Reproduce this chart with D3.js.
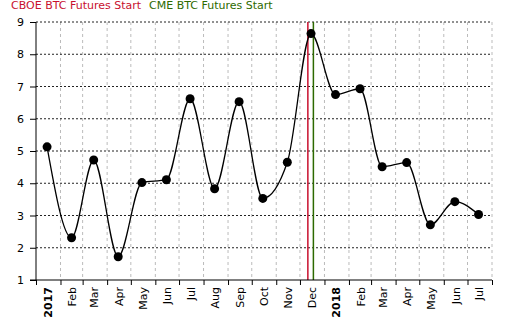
<!DOCTYPE html>
<html lang="en">
<head>
    <meta charset="UTF-8">
    <title>BTC chart</title>
    <script src="https://cdnjs.cloudflare.com/ajax/libs/d3/7.8.5/d3.min.js"></script>
    <style>
        body { margin: 0; background: #fff; }
        text { font-family: "DejaVu Sans", Verdana, sans-serif; }
    </style>
</head>
<body>
    <div id="displayhere"></div>
    <script>
        // Chart size
        var w = 520;
        var h = 334;
        var margin = { top: 22, right: 28, bottom: 54, left: 36 };

        // Data (one point per month, mid-month)
        var months = ["2017-01", "2017-02", "2017-03", "2017-04", "2017-05", "2017-06",
            "2017-07", "2017-08", "2017-09", "2017-10", "2017-11", "2017-12",
            "2018-01", "2018-02", "2018-03", "2018-04", "2018-05", "2018-06", "2018-07"];
        var values = [5.13, 2.31, 4.72, 1.72, 4.02, 4.11, 6.62, 3.83, 6.53, 3.53, 4.65, 8.64,
            6.75, 6.93, 4.51, 4.64, 2.71, 3.43, 3.03];
        var yTicks = [1, 2, 3, 4, 5, 6, 7, 8, 9];
        var events = ["2017-12-11", "2017-12-18"];
        var eventNames = ["CBOE BTC Futures Start", "CME BTC Futures Start"];
        var eventColors = ["#c8102e", "#2d6a00"];

        var parseMonth = d3.timeParse("%Y-%m");
        var parseDay = d3.timeParse("%Y-%m-%d");

        var data = months.map(function(m, i) {
            var d = parseMonth(m);
            return { date: d3.timeDay.offset(d, 14), value: values[i] };
        });

        var x = d3.scaleTime()
            .domain([new Date(2017, 0, 1), new Date(2018, 7, 1)])
            .range([margin.left, w - margin.right]);
        var y = d3.scaleLinear()
            .domain([1, 9])
            .range([h - margin.bottom, margin.top]);

        var svg = d3.select("#displayhere")
            .append("svg")
            .attr("width", w)
            .attr("height", h);

        // Legend
        var legend = svg.append("text")
            .attr("x", 11)
            .attr("y", 9)
            .attr("font-size", "11px");
        eventNames.forEach(function(name, i) {
            legend.append("tspan")
                .attr("dx", i ? 8 : 0)
                .attr("fill", eventColors[i])
                .text(name);
        });

        var monthTicks = d3.timeMonth.range(new Date(2017, 0, 1), new Date(2018, 7, 2));

        // Vertical grid
        svg.append("g")
            .selectAll("line")
            .data(monthTicks.slice(1))
            .enter()
            .append("line")
            .attr("x1", function(d) { return x(d); })
            .attr("x2", function(d) { return x(d); })
            .attr("y1", y(9))
            .attr("y2", y(1))
            .attr("stroke", "#bbb")
            .attr("stroke-dasharray", "3,3");

        // Horizontal grid
        svg.append("g")
            .selectAll("line")
            .data(yTicks.slice(1))
            .enter()
            .append("line")
            .attr("x1", x.range()[0])
            .attr("x2", x.range()[1])
            .attr("y1", function(d) { return y(d); })
            .attr("y2", function(d) { return y(d); })
            .attr("stroke", "#222")
            .attr("stroke-dasharray", "2,2");

        // Event lines
        svg.append("g")
            .selectAll("line")
            .data(events)
            .enter()
            .append("line")
            .attr("x1", function(d) { return x(parseDay(d)); })
            .attr("x2", function(d) { return x(parseDay(d)); })
            .attr("y1", y(9))
            .attr("y2", y(1))
            .attr("stroke", function(d, i) { return eventColors[i]; })
            .attr("stroke-width", 1.5);

        // Y axis
        var yAxis = svg.append("g")
            .attr("transform", "translate(" + margin.left + ",0)")
            .call(d3.axisLeft(y).tickValues(yTicks).tickSize(6).tickPadding(6));
        yAxis.select(".domain").attr("stroke", "#000").attr("d", "M0," + y(9) + "V" + y(1));
        yAxis.selectAll("text").attr("font-size", "11px").attr("fill", "#000")
            .attr("font-family", "DejaVu Sans, Verdana, sans-serif");

        // X axis: ticks at month starts, labels mid-month
        var xAxis = svg.append("g")
            .attr("transform", "translate(0," + y(1) + ")")
            .call(d3.axisBottom(x).tickValues(monthTicks).tickSize(5).tickFormat(""));
        xAxis.select(".domain").attr("stroke", "#000")
            .attr("d", "M" + (margin.left - 6) + ",0H" + x.range()[1]);

        var labelDates = monthTicks.slice(0, -1);
        svg.append("g")
            .selectAll("text")
            .data(labelDates)
            .enter()
            .append("text")
            .attr("transform", function(d) {
                var mid = d3.timeDay.offset(d, 15);
                return "translate(" + (x(mid) + 4) + "," + (y(1) + 7) + ") rotate(-90)";
            })
            .attr("text-anchor", "end")
            .attr("font-size", "11px")
            .attr("font-weight", function(d) { return d.getMonth() === 0 ? "bold" : "normal"; })
            .attr("fill", "#000")
            .text(function(d) {
                return d.getMonth() === 0 ? d3.timeFormat("%Y")(d) : d3.timeFormat("%b")(d);
            });

        // Line
        var line = d3.line()
            .x(function(d) { return x(d.date); })
            .y(function(d) { return y(d.value); })
            .curve(d3.curveMonotoneX);

        svg.append("path")
            .datum(data)
            .attr("d", line)
            .attr("fill", "none")
            .attr("stroke", "#000")
            .attr("stroke-width", 1.3);

        svg.append("g")
            .selectAll("circle")
            .data(data)
            .enter()
            .append("circle")
            .attr("cx", function(d) { return x(d.date); })
            .attr("cy", function(d) { return y(d.value); })
            .attr("r", 4.5)
            .attr("fill", "#000");
    </script>
</body>
</html>
